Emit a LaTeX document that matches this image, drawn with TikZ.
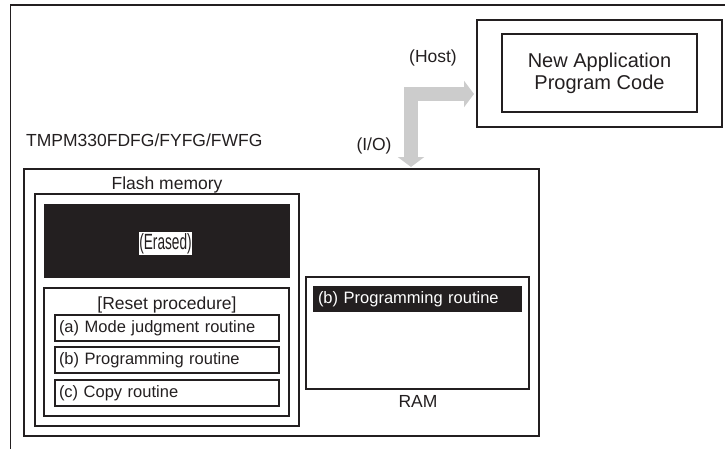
\documentclass[tikz,border=0pt]{standalone}
\usepackage{fontspec}
\setmainfont{Liberation Sans}
\newfontfamily\narrowfont[FakeStretch=0.62]{Liberation Sans}
\usepackage{xcolor}
\usetikzlibrary{arrows.meta}
\definecolor{ink}{HTML}{231F20}
\definecolor{arrowgray}{HTML}{CCCCCC}

\begin{document}
\begin{tikzpicture}[
            x=1pt, y=-1pt,
            membox/.style={draw=ink, line width=1.5pt, outer sep=0pt, inner sep=0pt, anchor=north west},
            routinebox/.style={membox, minimum height=26pt, inner xsep=4pt, text width=216pt, align=left, font=\fontsize{16.5}{20}\selectfont, text=ink},
            blackbar/.style={fill=ink, outer sep=0pt, inner sep=0pt, anchor=north west},
            textlabel/.style={font=\fontsize{17.5}{21}\selectfont, text=ink, inner sep=0pt},
            ioarrow/.style={draw=arrowgray, line width=14pt, {Triangle[width=26pt,length=10pt]}-{Triangle[width=26pt,length=10pt]}}
        ]
            \useasboundingbox (0,0) rectangle (725,448);

            % outer frame
            \draw[ink, line width=1.5pt] (10.5,5) rectangle (740,460);

            % host side
            \node[membox, minimum width=245pt, minimum height=107pt] (host) at (477,20) {};
            \node[membox, minimum width=195pt, minimum height=78pt, align=center, font=\fontsize{20}{22}\selectfont, text=ink] (code) at (502,34) {New Application\\Program Code};
            \node[textlabel] (hostlabel) at (433,57.5) {(Host)};

            % device
            \node[textlabel, anchor=base west] (device) at (26,146) {TMPM330FDFG/FYFG/FWFG};
            \node[membox, minimum width=515pt, minimum height=267pt] (chip) at (24,169) {};
            \node[textlabel] (iolabel) at (374,146) {(I/O)};

            % flash memory
            \node[textlabel, anchor=base] (flashlabel) at (167,189) {Flash memory};
            \node[membox, minimum width=264pt, minimum height=232pt] (flash) at (35,194) {};
            \node[blackbar, minimum width=246pt, minimum height=74pt] (erased) at (44,204) {};
            \node[fill=white, inner xsep=0.8pt, inner ysep=1pt, font=\narrowfont\fontsize{22}{24}\selectfont, text=ink] (erasedlabel) at (165.5,243.5) {(Erased)};

            % reset procedure
            \node[membox, minimum width=245pt, minimum height=128pt] (reset) at (44,288) {};
            \node[textlabel] (resetlabel) at (167,305) {[Reset procedure]};
            \node[routinebox] (judge) at (55,315) {(a) Mode judgment routine};
            \node[routinebox] (prog) at (55,347) {(b) Programming routine};
            \node[routinebox] (copy) at (55,380) {(c) Copy routine};

            % ram
            \node[membox, minimum width=223pt, minimum height=112pt] (ram) at (306,277) {};
            \node[blackbar, minimum width=209pt, minimum height=26pt, inner xsep=5pt, text width=199pt, align=left, font=\fontsize{16.5}{20}\selectfont, text=white] (ramprog) at (313,286) {(b) Programming routine};
            \node[textlabel] (ramlabel) at (418,401.5) {RAM};

            % i/o arrow
            \coordinate (io) at (411,167);
            \coordinate (hostin) at (474,94);
            \draw[ioarrow] (io) |- (hostin);

        \end{tikzpicture}
\end{document}
